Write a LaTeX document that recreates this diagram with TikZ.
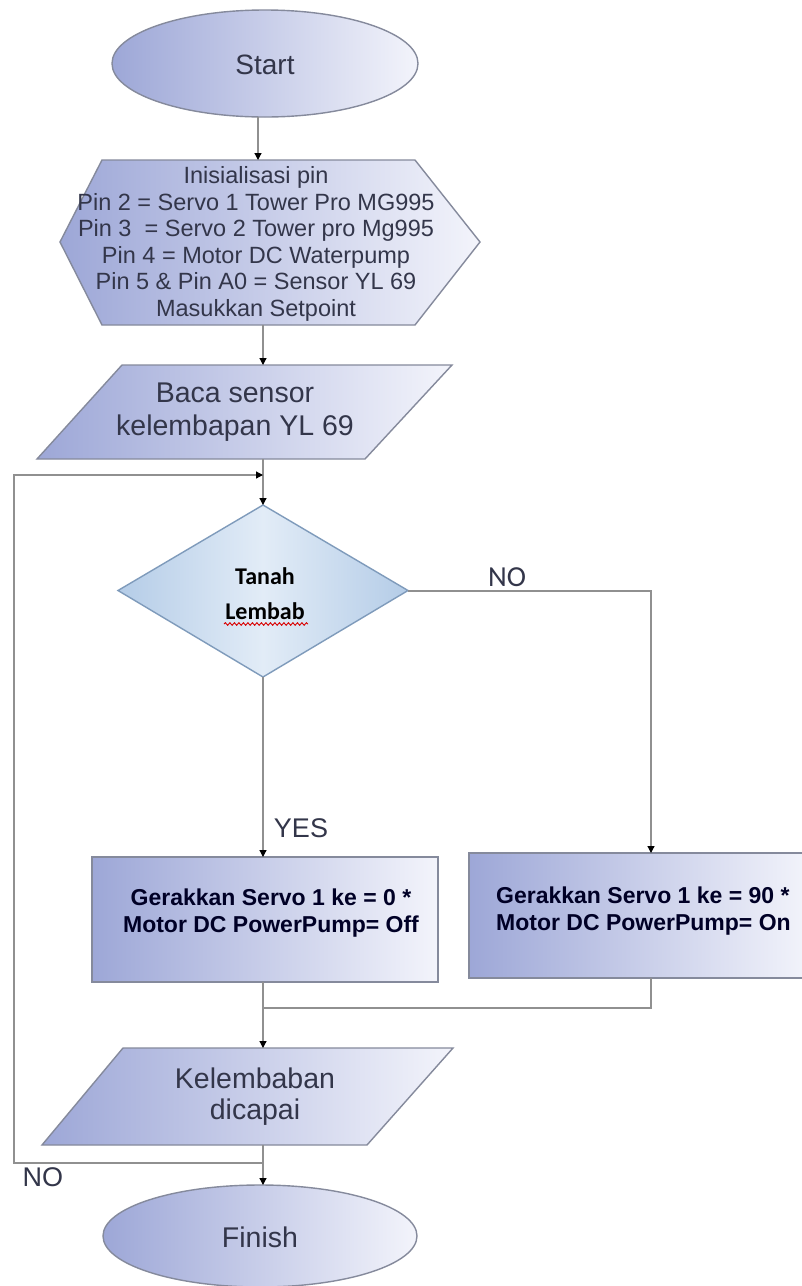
\documentclass[tikz,border=0pt]{standalone}
\usepackage{fontspec}
\setmainfont{Liberation Sans}
\newfontfamily\calib{Carlito}
\usetikzlibrary{shapes.geometric,arrows.meta,decorations.pathmorphing,calc}
\definecolor{shdark}{HTML}{9DA7D7}
\definecolor{shlight}{HTML}{F3F4FB}
\definecolor{bord}{HTML}{858A9C}
\definecolor{lineg}{HTML}{909090}
\definecolor{txt}{HTML}{33364A}
\definecolor{dmdark}{HTML}{B4CCE7}
\definecolor{dmlight}{HTML}{E2ECF7}
\definecolor{dmbord}{HTML}{7F9BBB}
\begin{document}
\begin{tikzpicture}[x=1pt,y=-1pt,
  conn/.style={draw=lineg, line width=1.2pt},
  arr/.style={conn, -{Triangle[length=7pt,width=7pt,color=black]}},
  shp/.style={draw=bord, line width=1.4pt, left color=shdark, right color=shlight},
  dmd/.style={draw=dmbord, line width=1.4pt, left color=dmdark, right color=dmdark, middle color=dmlight},
  anc/.style={inner sep=0pt, outer sep=0pt},
  lbl/.style={inner sep=0pt, text=txt, align=center},
  bold/.style={inner sep=0pt, text=black!85!blue, font=\bfseries\fontsize{23}{27}\selectfont}
]
\clip (0,0) rectangle (802,1286);
\fill[white] (0,0) rectangle (802,1286);

\coordinate (spine) at (263,0);
\coordinate (rx) at (651,0);
\coordinate (lx) at (14,0);
\coordinate (ly) at (0,475);
\coordinate (jn) at (263,1163);
\coordinate (mg) at (263,1008);

% Start
\node[anc, ellipse, shp, minimum width=306pt, minimum height=107pt] (start) at (265,63.5) {};
\node[lbl, font=\fontsize{28}{32}\selectfont] at (265,65) {Start};

% Init hexagon
\draw[shp] (60,242) -- (102,160) -- (415,160) -- (480,242) -- (415,325) -- (102,325) -- cycle;
\node[anc, rectangle, minimum width=300pt, minimum height=165pt] (init) at (258,242.5) {};
\node[lbl, font=\fontsize{23.5}{26.5}\selectfont] at (256,244)
  {Inisialisasi pin\\Pin 2 = Servo 1 Tower Pro MG995\\Pin 3 \ = Servo 2 Tower pro Mg995\\Pin 4 = Motor DC Waterpump\\Pin 5 \& Pin A0 = Sensor YL 69\\Masukkan Setpoint};

% Baca sensor
\draw[shp] (122,365) -- (452,365) -- (365,459) -- (37,459) -- cycle;
\node[anc, rectangle, minimum width=300pt, minimum height=94pt] (baca) at (245,412) {};
\node[lbl, font=\fontsize{28.5}{33}\selectfont] at (235,412) {Baca sensor\\kelembapan YL 69};

% Decision
\draw[dmd] (263,505) -- (408,590.5) -- (263,677) -- (118,590.5) -- cycle;
\node[anc, rectangle, minimum width=290pt, minimum height=172pt] (dec) at (263,591) {};
\node[inner sep=0pt, font=\calib\bfseries\fontsize{24}{35}\selectfont, align=center] at (265,594) {Tanah\\Lembab};
\draw[red!85!black, line width=0.9pt, decorate, decoration={snake, amplitude=1.3pt, segment length=4.5pt}] (224,624) -- (308,624);

% Boxes
\node[anc, rectangle, shp, minimum width=346pt, minimum height=125pt] (boxL) at (265,919.5) {};
\node[bold, align=center] at (271,913) {Gerakkan Servo 1 ke = 0 *\\Motor DC PowerPump= Off};
\node[anc, rectangle, shp, minimum width=341pt, minimum height=125pt] (boxR) at (639.5,915.5) {};
\node[bold, align=left, anchor=west] at (496,911) {Gerakkan Servo 1 ke = 90 *\\Motor DC PowerPump= On};

% Kelembaban
\draw[shp] (123,1048) -- (453,1048) -- (367,1145) -- (42,1145) -- cycle;
\node[anc, rectangle, minimum width=300pt, minimum height=97pt] (kel) at (250,1096.5) {};
\node[lbl, font=\fontsize{28.5}{31}\selectfont] at (255,1097) {Kelembaban\\dicapai};

% Finish
\node[anc, ellipse, shp, minimum width=314pt, minimum height=102pt] (finish) at (260,1236) {};
\node[lbl, font=\fontsize{28.5}{32}\selectfont] at (260,1237) {Finish};

% Connectors
\draw[arr] (init.north |- start.south) -- (init.north);
\draw[arr] (init.south -| spine) -- (baca.north -| spine);
\draw[arr] (baca.south -| spine) -- (dec.north);
\draw[arr] (dec.south) -- (boxL.north -| spine);
\draw[arr] (dec.east) -| (boxR.north -| rx);
\draw[conn] (boxR.south -| rx) |- (mg);
\draw[arr] (boxL.south -| spine) -- (kel.north -| spine);
\draw[conn] (kel.south -| spine) -- (jn);
\draw[arr] (jn) -- (finish.north -| spine);
\draw[arr] (jn) -- (jn -| lx) -- (lx |- ly) -- (ly -| spine);

% Labels
\node[inner sep=0pt, text=txt, font=\calib\fontsize{29}{30}\selectfont] at (507,577) {NO};
\node[inner sep=0pt, text=txt, font=\fontsize{27}{28}\selectfont] at (301,828) {YES};
\node[inner sep=0pt, text=txt, font=\fontsize{27}{28}\selectfont] at (43,1177) {NO};
\end{tikzpicture}
\end{document}
